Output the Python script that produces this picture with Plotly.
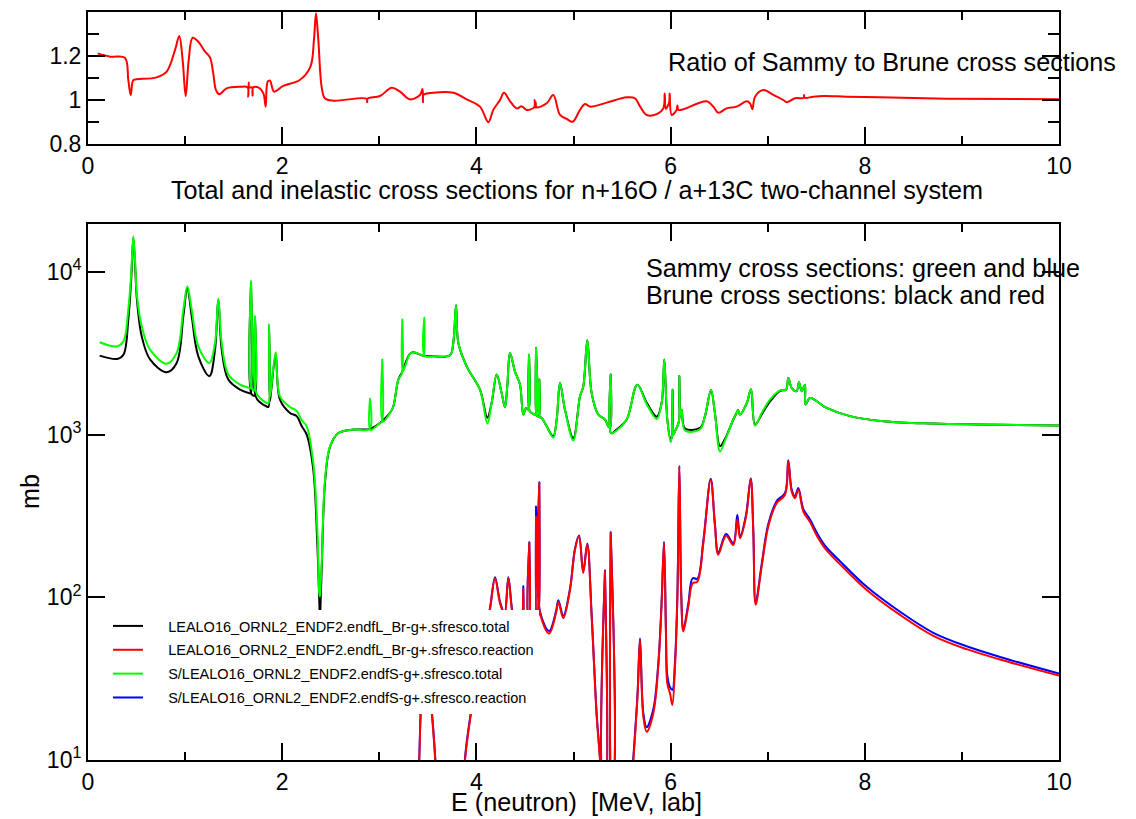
import plotly.graph_objects as go

# ---------------- data ----------------
# Ratio of Sammy to Brune cross sections (top panel)
ratio = [(0.10,1.212),(0.23,1.197),(0.38,1.192),(0.415,1.09),(0.44,1.023),(0.466,1.09),(0.50,1.094),
         (0.707,1.103),(0.81,1.129),(0.896,1.227),(0.94,1.291),(0.975,1.18),(1.006,1.018),(1.037,1.18),
         (1.078,1.283),(1.136,1.265),(1.205,1.22),(1.256,1.194),(1.29,1.121),(1.318,1.045),(1.352,1.026),
         (1.428,1.053),(1.565,1.06),(1.645,1.057),(1.650,1.015),(1.655,1.079),(1.66,1.057),(1.69,1.057),
         (1.695,1.02),(1.70,1.057),(1.754,1.057),(1.806,1.03),(1.83,0.97),(1.85,1.083),(1.874,1.088),
         (1.916,1.038),(2.01,1.064),(2.18,1.091),(2.29,1.151),(2.327,1.273),(2.348,1.394),(2.372,1.273),
         (2.407,1.057),(2.44,1.008),(2.527,0.997),(2.87,1.006),(2.875,0.99),(2.88,1.006),(3.007,1.018),
         (3.128,1.056),(3.213,1.038),(3.316,1.003),(3.419,1.023),(3.445,1.05),(3.45,0.99),(3.455,1.023),
         (3.556,1.033),(3.762,1.033),(3.9,1.003),(4.037,0.97),(4.123,0.899),(4.174,0.955),(4.243,1.0),
         (4.284,1.033),(4.346,0.995),(4.415,0.962),(4.466,0.971),(4.518,0.955),(4.595,0.967),(4.60,1.0),
         (4.605,0.965),(4.61,0.99),(4.62,0.967),(4.724,0.985),(4.792,1.023),(4.861,0.932),(4.93,0.914),
         (4.991,0.901),(5.067,0.955),(5.118,0.982),(5.17,0.97),(5.342,0.988),(5.548,1.012),(5.633,1.008),
         (5.685,0.971),(5.754,0.932),(5.857,0.936),(5.925,0.962),(5.94,1.03),(5.95,0.96),(5.985,0.99),
         (5.99,1.03),(6.011,0.932),(6.062,0.955),(6.07,0.975),(6.08,0.955),(6.131,0.958),(6.372,0.994),
         (6.44,0.97),(6.492,0.942),(6.578,0.962),(6.681,0.97),(6.784,0.994),(6.818,0.985),(6.842,0.958),
         (6.87,1.015),(6.955,1.045),(7.058,1.023),(7.161,1.0),(7.195,0.99),(7.281,1.008),(7.37,1.01),
         (7.374,1.023),(7.38,1.01),(7.47,1.015),(7.573,1.018),(7.813,1.015),(8.156,1.012),(8.843,1.006),
         (10.0,1.003)]

# Brune total (black), mb
brune_total = [(0.12,3060),(0.30,2920),(0.365,3100),(0.415,5100),(0.445,9000),(0.467,16200),(0.49,9500),
    (0.501,7100),(0.553,4030),(0.639,2900),(0.81,2420),(0.913,2760),(0.982,5350),(1.023,7980),(1.068,5350),
    (1.136,3030),(1.25,2290),(1.308,3330),(1.342,6770),(1.377,3330),(1.445,2180),(1.566,1890),(1.661,1800),
    (1.675,1790),(1.679,8500),(1.684,1780),(1.715,1740),(1.72,5200),(1.725,1730),(1.771,1580),(1.84,1490),
    (1.858,1480),(1.864,4600),(1.872,1600),(1.885,1820),(1.933,3100),(1.977,1640),(2.08,1360),(2.149,1300),
    (2.2,1130),(2.252,1000),(2.32,610),(2.362,210),(2.382,95),(2.389,70),(2.397,100),(2.407,150),(2.441,510),
    (2.492,840),(2.578,1023),(2.732,1075),(2.9,1083),(3.007,1180),(3.11,1360),(3.144,1490),(3.196,2180),
    (3.231,2400),(3.316,3150),(3.35,3210),(3.453,3060),(3.556,3030),(3.728,3080),(3.762,3660),(3.79,6250),
    (3.814,3660),(3.9,2630),(4.037,1890),(4.113,1270),(4.157,1570),(4.209,2340),(4.26,1800),(4.294,1475),
    (4.318,1980),(4.346,3180),(4.397,2450),(4.449,2030),(4.483,1330),(4.511,1460),(4.537,1420),(4.542,3100),
    (4.547,1400),(4.569,1360),(4.609,1330),(4.614,3410),(4.619,1320),(4.628,1300),(4.644,1290),(4.648,2180),
    (4.652,1280),(4.672,1270),(4.724,1125),(4.792,977),(4.827,1240),(4.861,2080),(4.912,1425),(4.998,953),
    (5.067,1720),(5.101,1980),(5.142,3800),(5.187,1800),(5.255,1330),(5.324,1240),(5.358,1125),(5.378,1100),
    (5.383,2340),(5.388,1020),(5.445,1075),(5.548,1240),(5.657,2030),(5.754,1570),(5.857,1290),(5.908,1570),
    (5.935,2900),(5.966,1240),(6.001,930),(6.016,1000),(6.021,1890),(6.026,1000),(6.045,1050),(6.085,1200),
    (6.09,2290),(6.095,1300),(6.114,1425),(6.148,1090),(6.303,1100),(6.354,1300),(6.416,1880),(6.457,1350),
    (6.509,850),(6.56,940),(6.646,1240),(6.687,1390),(6.695,1420),(6.714,1330),(6.784,1560),(6.828,1900),
    (6.869,1150),(6.938,1330),(7.024,1600),(7.127,1860),(7.189,1890),(7.212,2230),(7.247,1940),(7.298,1850),
    (7.322,2100),(7.35,1850),(7.384,2030),(7.39,1530),(7.436,1680),(7.607,1460),(7.848,1300),(8.19,1210),
    (8.706,1170),(10.0,1140)]

# Sammy total (green), mb
sammy_total = [(0.12,3700),(0.30,3490),(0.365,3750),(0.415,5880),(0.445,9800),(0.467,16600),(0.49,10200),
    (0.501,7450),(0.553,4650),(0.639,3330),(0.81,2730),(0.913,3180),(0.982,5870),(1.023,8180),(1.068,5870),
    (1.136,3490),(1.25,2760),(1.308,3660),(1.342,6840),(1.377,3660),(1.445,2340),(1.566,2030),(1.661,1940),
    (1.675,1930),(1.679,8770),(1.684,1920),(1.715,1880),(1.72,5350),(1.725,1860),(1.771,1680),(1.84,1570),
    (1.858,1560),(1.864,4750),(1.872,1700),(1.885,1890),(1.933,3210),(1.977,1720),(2.08,1480),(2.149,1400),
    (2.2,1230),(2.252,1125),(2.32,670),(2.362,260),(2.382,106),(2.389,101),(2.397,125),(2.407,162),(2.441,528),
    (2.492,847),(2.578,1023),(2.732,1075),(2.899,1083),(2.904,1660),(2.909,1070),(3.007,1180),(3.026,1195),
    (3.031,2900),(3.036,1200),(3.11,1360),(3.144,1490),(3.196,2180),(3.232,2380),(3.237,5100),(3.242,2450),
    (3.316,3150),(3.35,3210),(3.453,3060),(3.459,3060),(3.464,5230),(3.469,3050),(3.556,3030),(3.728,3080),
    (3.762,3660),(3.79,6250),(3.814,3660),(3.9,2630),(4.037,1890),(4.113,1170),(4.157,1570),(4.209,2340),
    (4.26,1800),(4.294,1475),(4.318,1980),(4.346,3180),(4.397,2450),(4.449,2030),(4.483,1330),(4.511,1460),
    (4.537,1420),(4.542,3100),(4.547,1400),(4.569,1360),(4.609,1330),(4.614,3410),(4.619,1320),(4.628,1300),
    (4.644,1290),(4.648,2180),(4.652,1280),(4.672,1270),(4.724,1125),(4.792,960),(4.827,1240),(4.861,2080),
    (4.912,1425),(4.998,920),(5.067,1720),(5.101,1980),(5.142,3800),(5.187,1800),(5.255,1330),(5.324,1240),
    (5.358,1125),(5.378,1100),(5.383,2340),(5.388,1020),(5.445,1060),(5.548,1240),(5.657,2030),(5.754,1540),
    (5.857,1250),(5.908,1570),(5.935,2900),(5.966,1240),(6.001,900),(6.016,1000),(6.021,1890),(6.026,1000),
    (6.045,1050),(6.085,1200),(6.09,2290),(6.095,1300),(6.114,1425),(6.148,1060),(6.303,1080),(6.354,1300),
    (6.416,1880),(6.457,1350),(6.509,789),(6.56,920),(6.646,1240),(6.687,1390),(6.695,1420),(6.714,1330),
    (6.784,1560),(6.828,1910),(6.869,1135),(6.938,1360),(7.024,1640),(7.127,1870),(7.189,1890),(7.212,2230),
    (7.247,1940),(7.298,1850),(7.322,2100),(7.35,1850),(7.384,2030),(7.39,1530),(7.436,1680),(7.607,1460),
    (7.848,1300),(8.19,1210),(8.706,1170),(10.0,1140)]

# Brune reaction (red), mb
brune_reaction = [(2.40,0.5),(3.44,1),(3.455,60),(3.47,1),(3.85,3),(3.883,10),(3.945,19.5),(4.0,32),(4.08,55),
    (4.14,84),(4.192,131),(4.243,92),(4.29,78),(4.329,131),(4.37,80),(4.42,60),(4.475,70),(4.483,112),(4.49,70),
    (4.537,62),(4.545,215),(4.553,62),(4.607,62),(4.614,314),(4.621,70),(4.641,80),(4.648,504),(4.655,80),
    (4.75,60),(4.82,80),(4.844,94),(4.895,74.5),(4.964,111),(5.015,196),(5.057,237),(5.1,141),(5.142,211),
    (5.187,76),(5.239,18.5),(5.273,10),(5.30,5),(5.318,5),(5.324,144),(5.33,5),(5.377,5),(5.383,248),(5.389,5),
    (5.45,2),(5.55,3),(5.617,10),(5.66,25),(5.685,54.7),(5.719,18.5),(5.754,14.9),(5.822,19.4),(5.873,37.5),
    (5.907,90),(5.932,215),(5.952,60),(5.966,29.6),(5.994,25.7),(6.018,21.8),(6.045,37.5),(6.07,100),(6.09,638),
    (6.11,100),(6.131,61.7),(6.182,87.7),(6.227,122),(6.275,125),(6.337,215),(6.413,528),(6.457,273),(6.491,183),
    (6.571,239),(6.646,210),(6.687,300),(6.715,231),(6.777,314),(6.825,534),(6.852,250),(6.876,90),(6.938,155),
    (7.006,273),(7.092,379),(7.178,427),(7.212,686),(7.247,448),(7.281,407),(7.315,459),(7.367,337),(7.436,290),
    (7.505,240),(7.59,200),(7.744,160),(8.02,111),(8.363,78),(8.706,58),(9.049,48),(9.392,41.5),(10.0,33)]

# Sammy reaction (blue), mb
sammy_reaction = [(2.40,0.5),(3.44,1),(3.455,62),(3.47,1),(3.85,3),(3.883,10.3),(3.945,20),(4.0,33),(4.08,57),
    (4.14,86),(4.192,133),(4.243,94),(4.29,80),(4.329,133),(4.37,82),(4.42,62),(4.475,72),(4.483,117),(4.49,72),
    (4.537,63),(4.545,218),(4.553,63),(4.607,63),(4.614,362),(4.621,72),(4.641,82),(4.648,510),(4.655,82),
    (4.75,62),(4.82,82),(4.844,96),(4.895,77),(4.964,113),(5.015,199),(5.057,240),(5.1,144),(5.142,214),
    (5.187,78),(5.239,19),(5.273,10.3),(5.30,5),(5.318,5),(5.324,146),(5.33,5),(5.377,5),(5.383,251),(5.389,5),
    (5.45,2),(5.55,3),(5.617,10.5),(5.66,26),(5.685,56),(5.719,19.5),(5.754,15.9),(5.822,20.5),(5.873,39),
    (5.907,93),(5.932,220),(5.952,64),(5.966,33),(5.994,28),(6.018,27),(6.045,40),(6.07,104),(6.09,645),
    (6.11,104),(6.131,64),(6.182,91),(6.227,131),(6.275,130),(6.337,222),(6.413,535),(6.457,280),(6.491,188),
    (6.571,245),(6.646,215),(6.687,322),(6.715,237),(6.777,322),(6.825,540),(6.852,256),(6.876,93),(6.938,160),
    (7.006,282),(7.092,390),(7.178,438),(7.212,695),(7.247,460),(7.281,418),(7.315,470),(7.367,349),(7.436,301),
    (7.505,250),(7.59,208),(7.744,167),(8.02,116),(8.363,81.5),(8.706,60.5),(9.049,50),(9.392,43),(10.0,34)]

legend_names = ["LEALO16_ORNL2_ENDF2.endfL_Br-g+.sfresco.total",
                "LEALO16_ORNL2_ENDF2.endfL_Br-g+.sfresco.reaction",
                "S/LEALO16_ORNL2_ENDF2.endfS-g+.sfresco.total",
                "S/LEALO16_ORNL2_ENDF2.endfS-g+.sfresco.reaction"]

x_ticks = [0, 2, 4, 6, 8, 10]
ratio_ticks = [0.8, 1.0, 1.2]
ratio_ticktext = ["0.8", "1", "1.2"]
mb_ticks = [10, 100, 1000, 10000]
mb_ticktext = ["10<sup>1</sup>", "10<sup>2</sup>", "10<sup>3</sup>", "10<sup>4</sup>"]

# ---------------- figure ----------------
FONT = "Liberation Sans, Arial, Helvetica, sans-serif"
W, H = 1136, 819


def split(pairs):
    return [p[0] for p in pairs], [p[1] for p in pairs]


fig = go.Figure()

ex, ey = split(ratio)
fig.add_trace(go.Scatter(x=ex, y=ey, mode="lines",
                         line=dict(color="#ff0000", width=2, shape="spline", smoothing=1),
                         showlegend=False, xaxis="x", yaxis="y"))

pad = "\u00a0" * 5
series = [
    (sammy_reaction, "#0000ff", legend_names[3], 4),
    (brune_reaction, "#ff0000", legend_names[1], 2),
    (brune_total, "#000000", legend_names[0], 1),
    (sammy_total, "#00ff00", legend_names[2], 3),
]
for data, col, name, rank in series:
    sx, sy = split(data)
    fig.add_trace(go.Scatter(x=sx, y=sy, mode="lines",
                             line=dict(color=col, width=2, shape="spline", smoothing=1),
                             name=pad + name, legendrank=rank, legendgroup=str(rank),
                             xaxis="x2", yaxis="y2"))


def px_x(p):
    return p / W


def px_y(p):
    return (H - p) / H


axis_common = dict(showline=True, linecolor="black", linewidth=2, mirror="ticks",
                   ticks="inside", ticklen=17, tickwidth=2, tickcolor="black",
                   showgrid=False, zeroline=False, automargin=False,
                   tickfont=dict(family=FONT, size=23, color="black"))

xdom = [px_x(88), px_x(1059)]
xminor = dict(ticks="inside", ticklen=8, tickwidth=2, tickcolor="black", dtick=1, tick0=0, showgrid=False)

fig.update_layout(
    width=W, height=H,
    margin=dict(l=0, r=0, t=0, b=0, autoexpand=False),
    paper_bgcolor="white", plot_bgcolor="white",
    font=dict(family=FONT, color="black"),
    xaxis=dict(domain=xdom, anchor="y", range=[0, 10], tickvals=x_ticks, minor=xminor, **axis_common),
    yaxis=dict(domain=[px_y(144), px_y(12)], anchor="x", range=[0.8, 1.4],
               tickvals=ratio_ticks, ticktext=ratio_ticktext,
               minor=dict(ticks="inside", ticklen=11, tickwidth=2, tickcolor="black",
                          tickvals=[0.9, 1.1, 1.3], showgrid=False),
               **axis_common),
    xaxis2=dict(domain=xdom, anchor="y2", range=[0, 10], tickvals=x_ticks, minor=xminor, **axis_common),
    yaxis2=dict(domain=[px_y(760), px_y(224)], anchor="x2", type="log", range=[1, 4.295],
                tickvals=mb_ticks, ticktext=mb_ticktext, **axis_common),
    legend=dict(x=px_x(108), y=px_y(610), xanchor="left", yanchor="top",
                bgcolor="white", borderwidth=0,
                font=dict(family=FONT, size=14.5, color="black"),
                traceorder="grouped", tracegroupgap=2),
)

ann_font = dict(family=FONT, size=25.2, color="black")
annotations = [
    dict(text="Ratio of Sammy to Brune cross sections", x=px_x(667), y=px_y(62), xanchor="left"),
    dict(text="Total and inelastic cross sections for n+16O / a+13C two-channel system",
         x=px_x(577), y=px_y(190), xanchor="center"),
    dict(text="Sammy cross sections: green and blue", x=px_x(645), y=px_y(268), xanchor="left"),
    dict(text="Brune cross sections: black and red", x=px_x(645), y=px_y(295), xanchor="left"),
    dict(text="E (neutron)\u00a0 [MeV, lab]", x=px_x(576), y=px_y(802), xanchor="center"),
    dict(text="mb", x=px_x(30), y=px_y(492), xanchor="center", textangle=-90),
]
for a in annotations:
    fig.add_annotation(xref="paper", yref="paper", yanchor="middle", showarrow=False,
                       borderpad=0, font=ann_font, **a)

fig.write_html("out.html")
